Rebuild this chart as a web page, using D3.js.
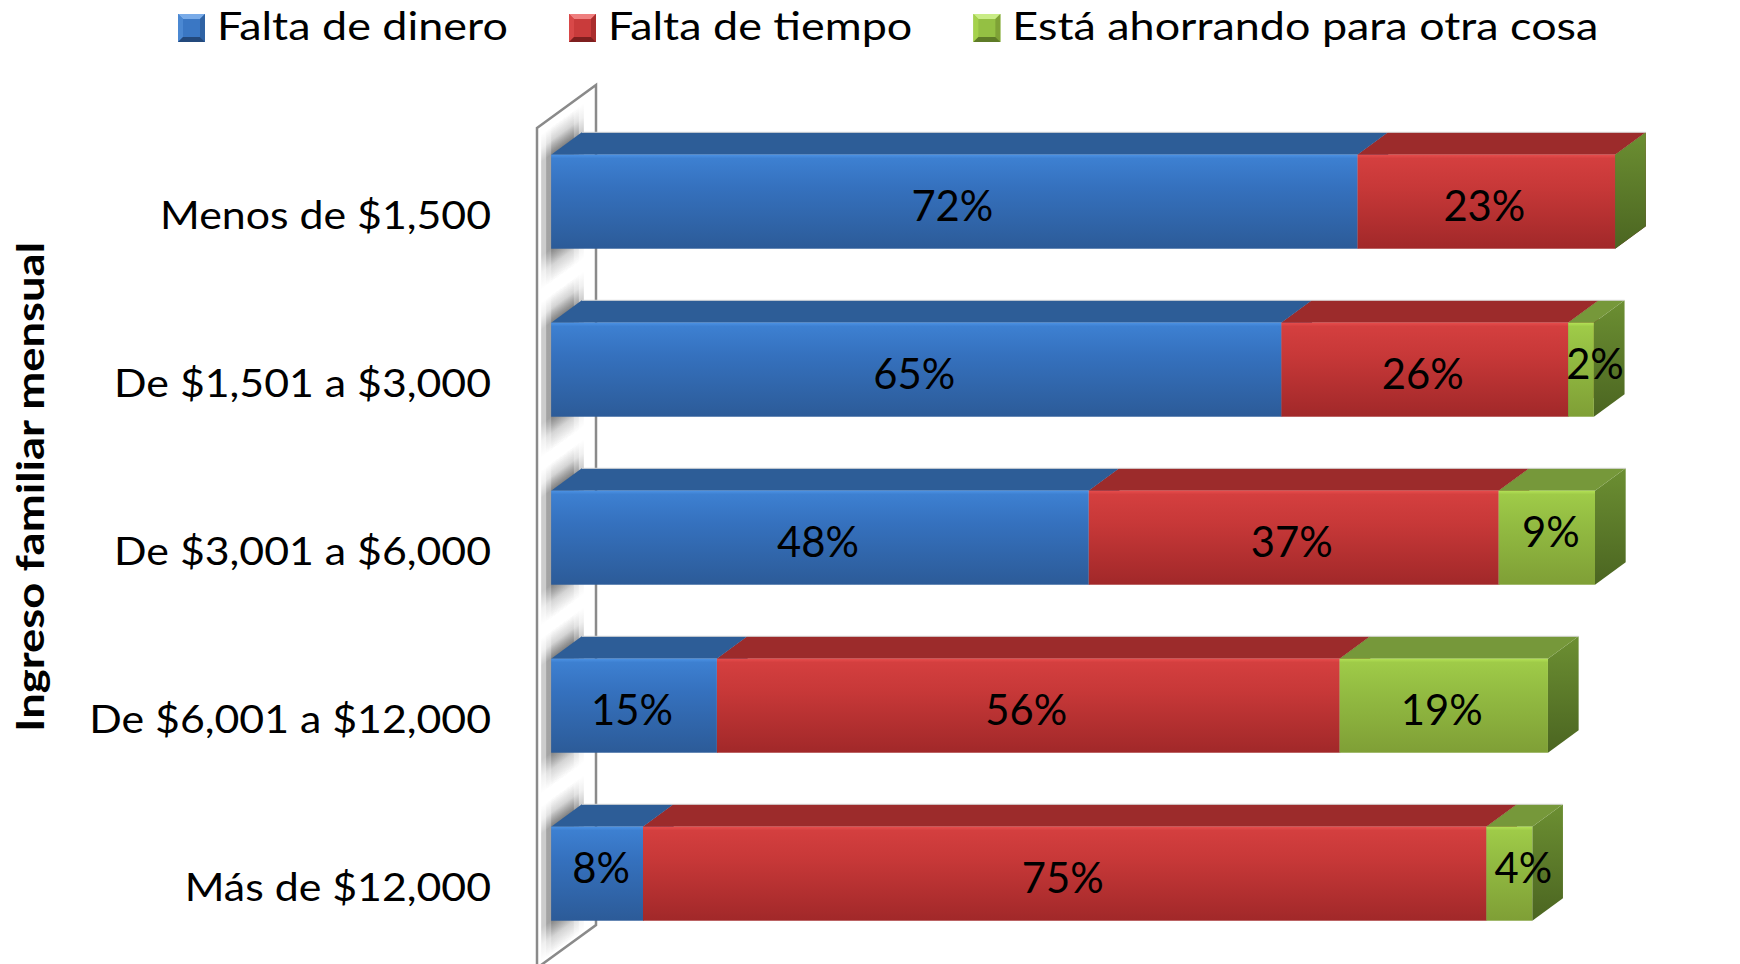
<!DOCTYPE html>
<html>
<head>
<meta charset="utf-8">
<script src="https://cdn.jsdelivr.net/npm/d3@7"></script>
<style>
  body { margin: 0; background: #fff; }
  svg { display: block; }
  text { font-family: Lato, "Open Sans", sans-serif; fill: #000; }
</style>
</head>
<body>
<svg id="chart" width="1740" height="964"></svg>
<script>
// data (values as drawn, labels are the rounded values)
const categories = [
  "Menos de $1,500",
  "De $1,501 a $3,000",
  "De $3,001 a $6,000",
  "De $6,001 a $12,000",
  "Más de $12,000"
];
const faltaDinero = [72.0, 65.2, 48.0, 14.8, 8.2];
const faltaTiempo = [23.0, 25.6, 36.6, 55.6, 75.3];
const ahorrando = [0, 2.3, 8.6, 18.6, 4.1];
const seriesKeys = ["dinero", "tiempo", "ahorro"];
const seriesNames = ["Falta de dinero", "Falta de tiempo", "Está ahorrando para otra cosa"];
const axisTitle = "Ingreso familiar mensual";

const svg = d3.select("#chart");
const defs = svg.append("defs");

// scales (value axis runs on the front plane of the wall)
const x = d3.scaleLinear().domain([0, 100]).range([537, 1657]);
const y = d3.scaleBand().domain(categories).range([128, 968])
  .paddingInner(0.44).paddingOuter(0.22);

// 3d depth: full wall depth vector, bars sit in the middle of it
const wall = { dx: 59, dy: -43 };
const f0 = 0.24, f1 = 0.76;
const fx = wall.dx * f0, fy = wall.dy * f0;
const bx = wall.dx * f1, by = wall.dy * f1;

const palette = [
  { front: ["#4c92e4", "#3d80d1", "#3571be", "#2c5b98"], top: "#2d5d97", side: ["#2a5890", "#1d3f6c"],
    bevel: ["#79abe8", "#4b88d2", "#2f63a4", "#23497c", "#3a77c4"] },
  { front: ["#e84d4d", "#d43f3f", "#c73838", "#a12829"], top: "#9c2b2b", side: ["#8a2626", "#611919"],
    bevel: ["#ef7f7f", "#d84848", "#aa2d2d", "#7e1f1f", "#c93b3b"] },
  { front: ["#b4e256", "#9fcb48", "#93bc42", "#7f9f36"], top: "#76983a", side: ["#6c8f32", "#4b6521"],
    bevel: ["#c9ec86", "#a5d24c", "#7fa236", "#5e7b27", "#94c043"] }
];

palette.forEach((p, k) => {
  const gf = defs.append("linearGradient").attr("id", "front" + k)
    .attr("x1", 0).attr("y1", 0).attr("x2", 0).attr("y2", 1);
  [[0, p.front[0]], [0.04, p.front[1]], [0.35, p.front[2]], [1, p.front[3]]]
    .forEach(([o, c]) => gf.append("stop").attr("offset", o).attr("stop-color", c));
  const gs = defs.append("linearGradient").attr("id", "side" + k)
    .attr("x1", 0).attr("y1", 0).attr("x2", 0).attr("y2", 1);
  gs.append("stop").attr("offset", 0).attr("stop-color", p.side[0]);
  gs.append("stop").attr("offset", 1).attr("stop-color", p.side[1]);
});

// soft shadow gradient (vertical fade above and below a bar)
const shTop = 28, shBot = 34;
const shH = shTop + y.bandwidth() + shBot;
const gsh = defs.append("linearGradient").attr("id", "shadow")
  .attr("x1", 0).attr("y1", 0).attr("x2", 0).attr("y2", 1);
[[0, 0], [shTop * 0.5 / shH, 0.3], [shTop / shH, 1],
 [(shTop + y.bandwidth()) / shH, 1], [(shTop + y.bandwidth() + shBot * 0.5) / shH, 0.3], [1, 0]]
  .forEach(([o, a]) => gsh.append("stop").attr("offset", o).attr("stop-color", "#000").attr("stop-opacity", a));

// wall
const [yTop, yBot] = y.range();
const wallPts = [
  [x(0), yTop], [x(0) + wall.dx, yTop + wall.dy],
  [x(0) + wall.dx, yBot + wall.dy], [x(0), yBot]
];

svg.append("polygon")
  .attr("points", wallPts.join(" "))
  .attr("fill", "#fff");

// shadows drawn in the skewed plane of the wall, stacked for soft side edges
const skew = Math.atan2(wall.dy, wall.dx) * 180 / Math.PI;
const shadowG = svg.append("g")
  .attr("transform", `translate(${x(0)},0) skewY(${skew})`);
[0, 5, 10].forEach(inset => {
  shadowG.append("g").selectAll("rect")
    .data(categories)
    .join("rect")
    .attr("x", fx - 10 + inset)
    .attr("width", bx - fx + 12 - 2 * inset)
    .attr("y", c => y(c) - shTop)
    .attr("height", shH)
    .attr("fill", "url(#shadow)")
    .attr("opacity", 0.2);
});

svg.append("polygon")
  .attr("points", wallPts.join(" "))
  .attr("fill", "none")
  .attr("stroke", "#8a8a8a")
  .attr("stroke-width", 2.5);

// stacked bars
const rows = categories.map((c, i) => ({
  cat: c, dinero: faltaDinero[i], tiempo: faltaTiempo[i], ahorro: ahorrando[i]
}));
const stacked = d3.stack().keys(seriesKeys)(rows);

const barsG = svg.append("g");
stacked.forEach((layer, k) => {
  const g = barsG.append("g");
  const seg = g.selectAll("g").data(layer).join("g");
  seg.append("polygon")
    .attr("points", d => {
      const x1 = x(d[1]), t = y(d.data.cat), b = t + y.bandwidth();
      return [[x1 + fx, t + fy], [x1 + bx, t + by], [x1 + bx, b + by], [x1 + fx, b + fy]].join(" ");
    })
    .attr("fill", `url(#side${k})`);
  seg.append("polygon")
    .attr("points", d => {
      const x0 = x(d[0]), x1 = x(d[1]), t = y(d.data.cat);
      return [[x0 + fx, t + fy], [x1 + fx, t + fy], [x1 + bx, t + by], [x0 + bx, t + by]].join(" ");
    })
    .attr("fill", palette[k].top);
  seg.append("rect")
    .attr("x", d => x(d[0]) + fx)
    .attr("y", d => y(d.data.cat) + fy)
    .attr("width", d => x(d[1]) - x(d[0]))
    .attr("height", y.bandwidth())
    .attr("fill", `url(#front${k})`);
});

// thin light outline on the back-top edge
barsG.selectAll(".edge")
  .data(rows)
  .join("line")
  .attr("x1", d => x(0) + bx)
  .attr("x2", d => x(d.dinero + d.tiempo + d.ahorro) + bx)
  .attr("y1", d => y(d.cat) + by)
  .attr("y2", d => y(d.cat) + by)
  .attr("stroke", "#d9d9d9")
  .attr("stroke-width", 1);

// text helpers
function measure(str, size, weight) {
  const t = svg.append("text").attr("font-size", size).attr("font-weight", weight || "normal").text(str);
  const w = t.node().getComputedTextLength();
  t.remove();
  return w;
}

// data labels
const labelSize = 43;
const sxLabel = 82 / measure("23%", labelSize);
const labels = [];
stacked.forEach(layer => layer.forEach(d => {
  const v = d[1] - d[0];
  if (v <= 0) return;
  const w = x(d[1]) - x(d[0]);
  let dx = -2, dy = 0;
  if (w < 100) { dy = -10; dx = w < 60 ? 14 : 4; }
  labels.push({
    text: Math.round(v) + "%",
    cx: (x(d[0]) + x(d[1])) / 2 + fx + dx,
    cy: y(d.data.cat) + fy + y.bandwidth() / 2 + dy
  });
}));
svg.append("g").selectAll("text")
  .data(labels)
  .join("text")
  .attr("text-anchor", "middle")
  .attr("font-size", labelSize)
  .attr("transform", d => `translate(${d.cx},${d.cy + 19.5}) scale(${sxLabel},1)`)
  .text(d => d.text);

// category labels
const catSize = 39;
const sxCat = 331 / measure(categories[0], catSize);
svg.append("g").selectAll("text")
  .data(categories)
  .join("text")
  .attr("text-anchor", "end")
  .attr("font-size", catSize)
  .attr("transform", c => `translate(491,${y(c) + y.bandwidth() / 2 + 17}) scale(${sxCat},1)`)
  .text(c => c);

// axis title
const titleSize = 39;
const sxTitle = 490 / measure(axisTitle, titleSize, "bold");
svg.append("text")
  .attr("text-anchor", "middle")
  .attr("font-size", titleSize)
  .attr("font-weight", "bold")
  .attr("transform", `translate(44,487) rotate(-90) scale(${sxTitle},1)`)
  .text(axisTitle);

// legend
const legSize = 39;
const sxLeg = 291 / measure(seriesNames[0], legSize);
const box = 27, boxGap = 12, itemGap = 61;
let lx = 178;
const legend = svg.append("g");
seriesNames.forEach((name, k) => {
  const b = palette[k].bevel, s = box, e = 5;
  const g = legend.append("g").attr("transform", `translate(${lx},14)`);
  g.append("rect").attr("width", s).attr("height", s + 1).attr("fill", b[4]);
  g.append("polygon").attr("points", [[0, 0], [s, 0], [s - e, e], [e, e]].join(" ")).attr("fill", b[0]);
  g.append("polygon").attr("points", [[0, 0], [e, e], [e, s + 1 - e], [0, s + 1]].join(" ")).attr("fill", b[1]);
  g.append("polygon").attr("points", [[s, 0], [s, s + 1], [s - e, s + 1 - e], [s - e, e]].join(" ")).attr("fill", b[2]);
  g.append("polygon").attr("points", [[0, s + 1], [s, s + 1], [s - e, s + 1 - e], [e, s + 1 - e]].join(" ")).attr("fill", b[3]);
  const tx = lx + box + boxGap;
  legend.append("text")
    .attr("font-size", legSize)
    .attr("transform", `translate(${tx},40) scale(${sxLeg},1)`)
    .text(name);
  lx = tx + measure(name, legSize) * sxLeg + itemGap;
});
</script>
</body>
</html>
